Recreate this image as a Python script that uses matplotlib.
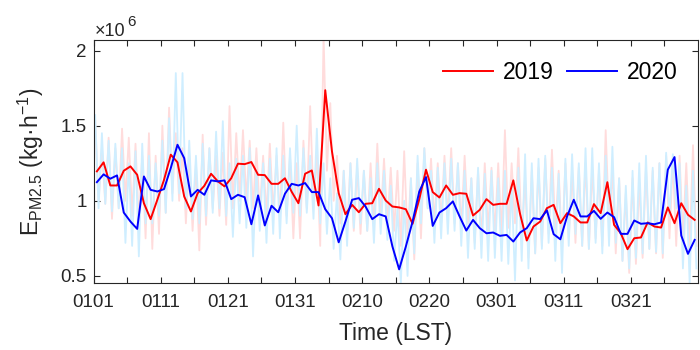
import matplotlib
matplotlib.use("Agg")
from matplotlib import pyplot as plt
from matplotlib.ticker import FuncFormatter
import numpy as np

plt.rcParams['font.family'] = ['Liberation Sans', 'DejaVu Sans']
plt.rcParams['mathtext.fontset'] = 'custom'
plt.rcParams['mathtext.rm'] = 'Liberation Sans'
plt.rcParams['mathtext.it'] = 'Liberation Sans:italic'

# daily mean emission, unit 10^6 kg/h, 0101 - 0330
e2019 = [1.196, 1.256, 1.102, 1.102, 1.20, 1.229, 1.173, 0.984, 0.878, 1.007,
         1.14, 1.307, 1.256, 1.029, 0.929, 1.05, 1.10, 1.18, 1.13, 1.096,
         1.15, 1.247, 1.244, 1.258, 1.173, 1.171, 1.113, 1.113, 1.15, 1.06,
         0.984, 1.18, 1.202, 0.969, 1.736, 1.329, 1.051, 0.911, 0.973, 0.924,
         0.98, 0.984, 1.08, 1.002, 0.962, 0.956, 0.944, 0.847, 1.011, 1.207,
         1.058, 1.022, 1.102, 1.04, 1.051, 1.047, 0.902, 0.94, 1.011, 0.973,
         0.98, 0.98, 1.136, 0.913, 0.736, 0.829, 0.862, 0.951, 0.973, 0.851,
         0.918, 0.896, 0.856, 0.856, 0.978, 0.918, 1.124, 0.84, 0.784, 0.678,
         0.751, 0.756, 0.856, 0.829, 0.822, 0.956, 0.851, 0.984, 0.907, 0.873]
e2020 = [1.124, 1.176, 1.147, 1.169, 0.922, 0.862, 0.813, 1.162, 1.073, 1.062,
         1.078, 1.218, 1.373, 1.284, 1.029, 1.073, 1.04, 1.136, 1.129, 1.136,
         1.011, 1.04, 1.024, 0.844, 1.036, 0.836, 0.967, 0.924, 1.047, 1.113,
         1.102, 1.118, 1.058, 1.058, 0.944, 0.884, 0.724, 0.862, 1.007, 1.018,
         0.962, 0.878, 0.911, 0.896, 0.696, 0.544, 0.696, 0.862, 1.062, 1.158,
         0.833, 0.922, 0.951, 0.996, 0.896, 0.802, 0.873, 0.818, 0.784, 0.789,
         0.767, 0.773, 0.729, 0.789, 0.818, 0.884, 0.878, 0.936, 0.778, 0.744,
         0.896, 1.007, 0.896, 0.896, 0.933, 0.88, 0.922, 0.891, 0.78, 0.78,
         0.869, 0.847, 0.851, 0.844, 0.856, 1.207, 1.291, 0.769, 0.647, 0.74]

# hourly series, read as daily high / low
hi2019 = [1.53, 1.35, 1.42, 1.35, 1.48, 1.42, 1.38, 1.30, 1.45, 1.30, 1.50, 1.62, 1.45, 1.35, 1.30,
          1.25, 1.44, 1.35, 1.30, 1.32, 1.63, 1.45, 1.47, 1.40, 1.35, 1.30, 1.38, 1.30, 1.52, 1.30,
          1.25, 1.40, 1.63, 1.30, 2.10, 1.65, 1.30, 1.20, 1.25, 1.22, 1.20, 1.25, 1.38, 1.28, 1.22,
          1.20, 1.33, 1.15, 1.25, 1.35, 1.28, 1.25, 1.30, 1.35, 1.25, 1.30, 1.15, 1.20, 1.25, 1.22,
          1.25, 1.47, 1.25, 1.35, 1.15, 1.20, 1.22, 1.28, 1.34, 1.20, 1.25, 1.20, 1.22, 1.25, 1.22,
          1.20, 1.47, 1.20, 1.15, 1.05, 1.15, 1.12, 1.22, 1.20, 1.25, 1.30, 1.28, 1.30, 1.25, 1.37]
lo2019 = [1.00, 0.98, 0.88, 0.95, 1.00, 0.90, 0.85, 0.75, 0.68, 0.78, 0.92, 1.05, 1.00, 0.85, 0.80,
          0.67, 0.84, 0.95, 0.90, 0.84, 0.95, 1.00, 1.00, 0.95, 0.92, 0.90, 0.92, 0.88, 0.90, 0.75,
          0.75, 0.95, 1.00, 0.70, 1.20, 1.00, 0.85, 0.78, 0.80, 0.78, 0.80, 0.82, 0.88, 0.85, 0.80,
          0.70, 0.75, 0.61, 0.75, 0.95, 0.85, 0.85, 0.88, 0.85, 0.82, 0.85, 0.72, 0.75, 0.80, 0.78,
          0.78, 0.82, 0.85, 0.75, 0.62, 0.65, 0.70, 0.78, 0.80, 0.68, 0.75, 0.72, 0.70, 0.68, 0.75,
          0.70, 0.85, 0.65, 0.60, 0.52, 0.58, 0.62, 0.68, 0.65, 0.62, 0.75, 0.70, 0.75, 0.68, 0.70]
hi2020 = [1.57, 1.45, 1.40, 1.38, 1.35, 1.25, 1.33, 1.38, 1.30, 1.25, 1.40, 1.55, 1.85, 1.85, 1.40,
          1.30, 1.38, 1.35, 1.46, 1.53, 1.25, 1.28, 1.30, 1.35, 1.20, 1.25, 1.28, 1.35, 1.30, 1.35,
          1.50, 1.35, 1.30, 1.48, 1.25, 1.15, 1.05, 1.20, 1.25, 1.28, 1.20, 1.15, 1.25, 1.20, 1.10,
          0.95, 1.00, 1.15, 1.30, 1.35, 1.20, 1.22, 1.25, 1.28, 1.25, 1.20, 1.15, 1.22, 1.18, 1.20,
          1.15, 1.20, 1.10, 1.22, 1.31, 1.25, 1.28, 1.30, 1.22, 1.18, 1.28, 1.31, 1.25, 1.35, 1.35,
          1.25, 1.30, 1.36, 1.15, 1.10, 1.20, 1.25, 1.30, 1.22, 1.25, 1.32, 1.31, 1.25, 1.10, 1.20]
lo2020 = [0.95, 0.98, 0.93, 0.95, 0.72, 0.70, 0.63, 0.85, 0.85, 0.90, 0.92, 1.00, 1.05, 0.95, 0.88,
          0.85, 0.90, 0.92, 0.95, 0.90, 0.76, 0.85, 0.82, 0.63, 0.80, 0.72, 0.78, 0.75, 0.85, 0.92,
          0.90, 0.92, 0.88, 0.85, 0.78, 0.68, 0.61, 0.70, 0.82, 0.85, 0.80, 0.72, 0.78, 0.74, 0.60,
          0.45, 0.50, 0.65, 0.85, 0.95, 0.72, 0.75, 0.78, 0.80, 0.70, 0.62, 0.68, 0.62, 0.60, 0.62,
          0.60, 0.58, 0.47, 0.60, 0.55, 0.65, 0.68, 0.72, 0.60, 0.52, 0.70, 0.78, 0.70, 0.68, 0.72,
          0.65, 0.70, 0.72, 0.60, 0.55, 0.62, 0.65, 0.68, 0.66, 0.65, 0.90, 0.95, 0.55, 0.45, 0.55]

tick_labels = ['0101', '0111', '0121', '0131', '0210', '0220', '0301', '0311', '0321']

days = np.arange(len(e2019)) + 0.5
# high in the afternoon, low at night
xh = np.ravel(np.column_stack([np.arange(90) + 0.25, np.arange(90) + 0.75]))
h2019 = np.ravel(np.column_stack([hi2019, lo2019]))
h2020 = np.ravel(np.column_stack([hi2020, lo2020]))

fig = plt.figure(figsize=(7, 3.5), dpi=100)
ax = fig.add_axes([0.1336, 0.1914, 0.8636, 0.6943])

ax.plot(xh, h2019, color='#ffdcdc', lw=1.3)
ax.plot(xh, h2020, color='#cfeeff', lw=1.3)
ax.plot(days, e2019, color='#ff0000', lw=1.4, label='2019')
ax.plot(days, e2020, color='#0000ff', lw=1.4, label='2020')

ax.set_xlim(0, 90)
ax.set_ylim(0.453, 2.07)
ax.set_xticks(np.arange(0, 90, 5))
ax.set_xticklabels([tick_labels[i // 2] if i % 2 == 0 else '' for i in range(18)])
ax.set_yticks([0.5, 1, 1.5, 2])
ax.yaxis.set_major_formatter(FuncFormatter(lambda v, p: '%g' % v))
ax.tick_params(direction='in', top=True, right=True, length=4, width=0.8,
               labelsize=13.5, colors='#262626')
ax.tick_params(axis='x', pad=8)
ax.tick_params(axis='y', pad=5)
for s in ax.spines.values():
    s.set_color('#262626')
    s.set_linewidth(0.8)

# x10^6 scale note
ax.annotate('×10', xy=(0, 1), xycoords='axes fraction', xytext=(1, 3),
            textcoords='offset points', fontsize=13, color='#262626',
            ha='left', va='baseline')
ax.annotate('6', xy=(0, 1), xycoords='axes fraction', xytext=(24, 10),
            textcoords='offset points', fontsize=11, color='#262626',
            ha='left', va='baseline')

ax.set_xlabel('Time (LST)', fontsize=16.5, color='#262626', labelpad=8)
ax.set_ylabel(r'E$_{\mathrm{PM2.5}}$ (kg·h$^{\mathrm{-1}}$)', fontsize=16.5,
              color='#262626', labelpad=10)

ax.legend(loc='upper right', ncol=2, frameon=False, fontsize=16.5,
          handlelength=2.2, columnspacing=0.6, handletextpad=0.4,
          bbox_to_anchor=(1.0, 1.0))

plt.savefig('out.png', dpi=100)
